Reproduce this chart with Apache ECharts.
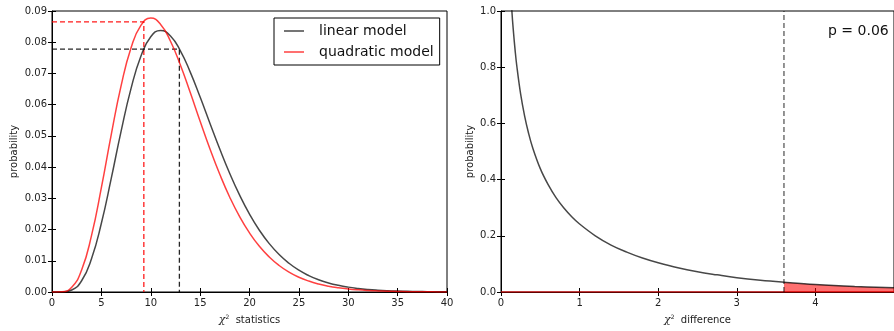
<!DOCTYPE html>
<html><head><meta charset="utf-8">
<script src="https://cdn.jsdelivr.net/npm/echarts@6/dist/echarts.min.js"></script>
<style>html,body{margin:0;padding:0;background:#fff}#c{width:894px;height:331px}</style>
</head><body><div id="c"></div>
<script>
// ---- data ----
const statX = [0,1,2,3,4,5,6,7,8,9,10,11,12,13,14,15,16,17,18,19,20,21,22,23,24,25,26,27,28,29,30,31,32,33,34,35,36,37,38,39,40];
const linearY = [0,0.000023,0.00064,0.0036,0.01064,0.02201,0.03639,0.05153,0.06515,0.07552,0.08177,0.08378,0.08200,0.07724,0.07042,0.06243,0.05400,0.04571,0.03797,0.03101,0.02494,0.01978,0.01550,0.01200,0.00920,0.00698,0.00526,0.00392,0.00291,0.00214,0.00156,0.00114,0.00082,0.00059,0.00042,0.00030,0.00021,0.00015,0.00011,0.00007,0.00005];
const quadY = [0,0.000079,0.00153,0.00706,0.01805,0.03340,0.05041,0.06608,0.07815,0.08541,0.08773,0.08570,0.08031,0.07268,0.06386,0.05469,0.04580,0.03762,0.03036,0.02413,0.01892,0.01464,0.01121,0.00849,0.00637,0.00474,0.00350,0.00256,0.00186,0.00135,0.00097,0.00069,0.00049,0.00035,0.00025,0.00017,0.00012,0.00008,0.00006,0.00004,0.00003];
const linearMark = [12.9, 0.0778];
const quadMark = [9.3, 0.0865];
const diffX = [0.10,0.14,0.16,0.18,0.20,0.25,0.30,0.35,0.40,0.50,0.60,0.70,0.80,0.90,1.00,1.20,1.40,1.60,1.80,2.00,2.25,2.50,2.75,3.00,3.30,3.60,4.00,4.50,5.00];
const diffY = [1.200,0.994,0.921,0.859,0.807,0.704,0.627,0.566,0.516,0.439,0.382,0.336,0.299,0.268,0.242,0.200,0.167,0.142,0.121,0.104,0.086,0.072,0.061,0.051,0.042,0.035,0.027,0.020,0.015];
const observedDiff = 3.6;
const tailX = [3.6,4.0,4.5,5.0];
const tailY = [0.035,0.027,0.020,0.015];
const pLabel = 'p = 0.06';
const legendNames = ['linear model','quadratic model'];

// ---- chart ----
const FONT = 'DejaVu Sans';
const zip = (xs, ys) => xs.map((x,i)=>[x, ys[i]]);
const chart = echarts.init(document.getElementById('c'), null, {renderer:'canvas'});
const tickIn = {show:true, inside:true, length:4, lineStyle:{color:'#000', width:1}};
const lbl = {color:'#222', fontFamily:FONT, fontSize:10};
const nameStyle = {
  color:'#222', fontFamily:FONT, fontSize:10,
  rich:{
    chi:{fontFamily:'DejaVu Serif', fontStyle:'italic', fontSize:11, color:'#222'},
    sup:{fontFamily:FONT, fontSize:6, color:'#222', padding:[0,0,7,0]}
  }
};
const grids = [
  {left:52, top:11, width:395, height:282, show:true, borderColor:'#000', borderWidth:1, backgroundColor:'#fff'},
  {left:501, top:11, width:395, height:282, show:true, borderColor:'#000', borderWidth:1, backgroundColor:'#fff'}
];
const xAxes = [
  {type:'value', gridIndex:0, min:0, max:40, interval:5, position:'bottom',
   axisLine:{show:true, lineStyle:{color:'#000'}}, axisTick:tickIn, splitLine:{show:false},
   axisLabel:Object.assign({margin:6, formatter:v=>String(v)}, lbl),
   name:'{chi|χ}{sup|2}  statistics', nameLocation:'middle', nameGap:22, nameTextStyle:nameStyle},
  {type:'value', gridIndex:0, min:0, max:40, interval:5, position:'top',
   axisLine:{show:false}, axisTick:tickIn, axisLabel:{show:false}, splitLine:{show:false}},
  {type:'value', gridIndex:1, min:0, max:5, interval:1, position:'bottom',
   axisLine:{show:true, lineStyle:{color:'#000'}}, axisTick:tickIn, splitLine:{show:false},
   axisLabel:Object.assign({margin:6, showMaxLabel:false, formatter:v=>String(v)}, lbl),
   name:'{chi|χ}{sup|2}  difference', nameLocation:'middle', nameGap:22, nameTextStyle:nameStyle},
  {type:'value', gridIndex:1, min:0, max:5, interval:1, position:'top',
   axisLine:{show:false}, axisTick:tickIn, axisLabel:{show:false}, splitLine:{show:false}}
];
const yAxes = [
  {type:'value', gridIndex:0, min:0, max:0.09, interval:0.01, position:'left',
   axisLine:{show:true, lineStyle:{color:'#000'}}, axisTick:tickIn, splitLine:{show:false},
   axisLabel:Object.assign({margin:5, formatter:v=>v.toFixed(2)}, lbl),
   name:'probability', nameLocation:'middle', nameGap:33, nameRotate:90, nameTextStyle:{color:'#222', fontFamily:FONT, fontSize:10}},
  {type:'value', gridIndex:0, min:0, max:0.09, interval:0.01, position:'right',
   axisLine:{show:false}, axisTick:tickIn, axisLabel:{show:false}, splitLine:{show:false}},
  {type:'value', gridIndex:1, min:0, max:1, interval:0.2, position:'left',
   axisLine:{show:true, lineStyle:{color:'#000'}}, axisTick:tickIn, splitLine:{show:false},
   axisLabel:Object.assign({margin:5, formatter:v=>v.toFixed(1)}, lbl),
   name:'probability', nameLocation:'middle', nameGap:26, nameRotate:90, nameTextStyle:{color:'#222', fontFamily:FONT, fontSize:10}},
  {type:'value', gridIndex:1, min:0, max:1, interval:0.2, position:'right',
   axisLine:{show:false}, axisTick:tickIn, axisLabel:{show:false}, splitLine:{show:false}}
];
const BLACK = 'rgba(0,0,0,0.72)';
const RED = 'rgba(255,0,0,0.75)';
const dashed = (data, color, xi, yi) => ({
  type:'line', xAxisIndex:xi, yAxisIndex:yi, data, symbol:'none', silent:true, z:3,
  lineStyle:{color, width:1.3, type:[5,3]}
});
const series = [
  {name:legendNames[0], type:'line', xAxisIndex:0, yAxisIndex:0, data:zip(statX, linearY),
   symbol:'none', smooth:0.5, lineStyle:{color:BLACK, width:1.5}, itemStyle:{color:BLACK}, z:4},
  {name:legendNames[1], type:'line', xAxisIndex:0, yAxisIndex:0, data:zip(statX, quadY),
   symbol:'none', smooth:0.5, lineStyle:{color:RED, width:1.5}, itemStyle:{color:RED}, z:4},
  dashed([[0, linearMark[1]],[linearMark[0], linearMark[1]],[linearMark[0], 0]], 'rgba(0,0,0,0.85)', 0, 0),
  dashed([[0, quadMark[1]],[quadMark[0], quadMark[1]],[quadMark[0], 0]], 'rgba(255,0,0,0.9)', 0, 0),
  // right panel
  {type:'line', xAxisIndex:2, yAxisIndex:2, data:zip(tailX, tailY), symbol:'none', smooth:0.4,
   lineStyle:{width:0}, areaStyle:{color:'rgba(255,0,0,0.56)', opacity:1}, z:2, silent:true},
  {type:'line', xAxisIndex:2, yAxisIndex:2, data:[[0,0],[5,0]], symbol:'none',
   lineStyle:{color:'rgba(255,0,0,0.7)', width:1.5}, z:3, silent:true},
  {type:'line', xAxisIndex:2, yAxisIndex:2, data:zip(diffX, diffY), symbol:'none', smooth:0.4,
   lineStyle:{color:BLACK, width:1.5}, z:4, silent:true},
  dashed([[observedDiff,0],[observedDiff,1]], 'rgba(0,0,0,0.65)', 2, 2)
];
chart.setOption({
  animation:false,
  backgroundColor:'#fff',
  grid:grids, xAxis:xAxes, yAxis:yAxes, series,
  legend:{
    data:legendNames.map(n=>({name:n, icon:'rect'})),
    orient:'vertical', left:274, top:18,
    padding:[6,6,6,10], itemGap:7, itemWidth:20, itemHeight:1.5,
    borderColor:'#000', borderWidth:1, backgroundColor:'#fff',
    textStyle:{fontFamily:FONT, fontSize:14, color:'#111', padding:[0,0,0,10]}
  },
  graphic:[{
    type:'text', left:828, top:24,
    style:{text:pLabel, font:'14px "DejaVu Sans"', fill:'#111'}
  }]
});
</script></body></html>
